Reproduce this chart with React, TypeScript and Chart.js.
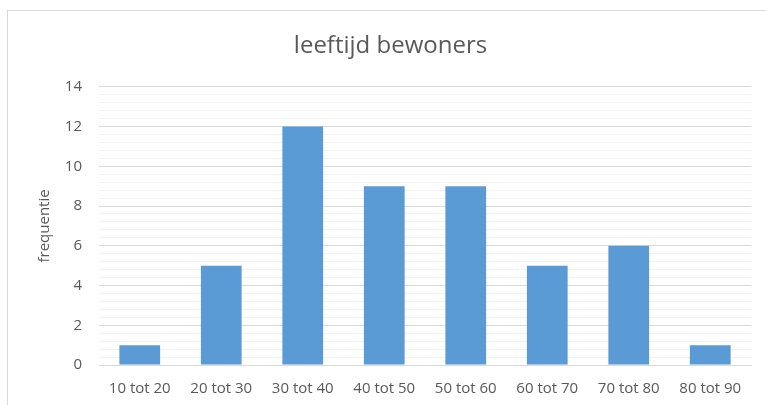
import React, { useEffect, useRef } from "react";
import { Chart, registerables } from "chart.js";

Chart.register(...registerables);

const categories = ["10 tot 20", "20 tot 30", "30 tot 40", "40 tot 50", "50 tot 60", "60 tot 70", "70 tot 80", "80 tot 90"];
const frequencies = [1, 5, 12, 9, 9, 5, 6, 1];
const chartTitle = "leeftijd bewoners";
const yAxisTitle = "frequentie";
const yMin = 0;
const yMax = 14;
const minorStep = 0.4;
const majorStep = 2;

const FONT = "'Open Sans', 'Liberation Sans', sans-serif";
const TEXT = "#595959";

const framePlugin = {
  id: "frame",
  beforeDraw(chart: any) {
    const ctx = chart.ctx;
    ctx.save();
    ctx.fillStyle = "#ffffff";
    ctx.fillRect(0, 0, chart.width, chart.height);
    ctx.strokeStyle = "#d9d9d9";
    ctx.lineWidth = 1;
    ctx.strokeRect(7.5, 10.5, 2000, 2000);
    ctx.restore();
  },
};

const isMajor = (v: number) => Math.abs(v / majorStep - Math.round(v / majorStep)) < 1e-6;

export default function App() {
  const ref = useRef<HTMLCanvasElement | null>(null);
  useEffect(() => {
    if (!ref.current) return;
    const chart = new Chart(ref.current, {
      type: "bar",
      data: {
        labels: categories,
        datasets: [
          {
            data: frequencies,
            backgroundColor: "#5B9BD5",
            borderWidth: 0,
            categoryPercentage: 1,
            barPercentage: 0.5,
          },
        ],
      },
      options: {
        responsive: false,
        animation: false,
        layout: { padding: { left: 30, right: 15, top: 0, bottom: 0 } },
        plugins: {
          legend: { display: false },
          tooltip: { enabled: false },
          title: {
            display: true,
            text: chartTitle,
            color: TEXT,
            font: { family: FONT, size: 24, weight: "normal" },
            padding: { top: 32, bottom: 26 },
          },
        },
        scales: {
          x: {
            afterFit: (scale: any) => {
              scale.height = 40;
            },
            grid: { display: false, drawTicks: false },
            border: { display: true, color: "#d9d9d9" },
            ticks: { color: TEXT, font: { family: FONT, size: 15 }, padding: 15 },
          },
          y: {
            min: yMin,
            max: yMax,
            afterFit: (scale: any) => {
              scale.width = 69;
            },
            afterBuildTicks: (scale: any) => {
              const t: any[] = [];
              const n = Math.round((yMax - yMin) / minorStep);
              for (let i = 0; i <= n; i++) t.push({ value: +(yMin + i * minorStep).toFixed(4) });
              scale.ticks = t;
            },
            border: { display: false },
            grid: {
              drawTicks: false,
              color: (c: any) => (isMajor(c.tick.value) ? "#d9d9d9" : "#f2f2f2"),
            },
            ticks: {
              autoSkip: false,
              color: TEXT,
              font: { family: FONT, size: 15 },
              padding: 17,
              callback: (v: any) => (isMajor(Number(v)) ? String(Math.round(Number(v))) : ""),
            },
            title: {
              display: true,
              text: yAxisTitle,
              color: TEXT,
              font: { family: FONT, size: 15 },
              padding: { top: 6, bottom: 0 },
            },
          },
        },
      },
      plugins: [framePlugin],
    });
    return () => chart.destroy();
  }, []);
  return (
    <div style={{ position: "fixed", left: 0, top: 0, width: 766, height: 405 }}>
      <canvas ref={ref} width={766} height={405} style={{ width: 766, height: 405 }} />
    </div>
  );
}
